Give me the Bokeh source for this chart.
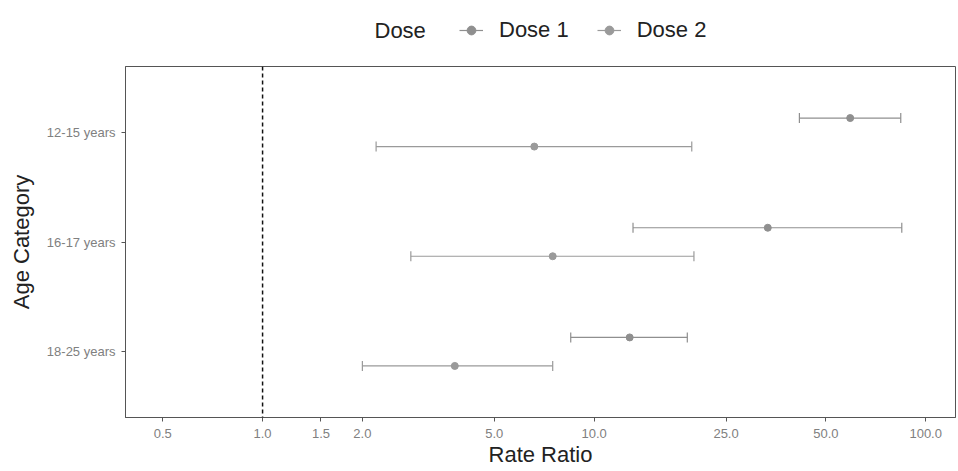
from bokeh.plotting import figure
from bokeh.layouts import column
from bokeh.models import (ColumnDataSource, FixedTicker, PrintfTickFormatter, Span,
                          Whisker, TeeHead, Legend, LegendItem, Label, Range1d)
from bokeh.transform import dodge
from bokeh.embed import file_html
from bokeh.resources import INLINE

# ---- data ----
age_categories = ["18-25 years", "16-17 years", "12-15 years"]
doses = ["Dose 1", "Dose 2"]
dose1_est = [12.8, 33.4, 59.2]      # order follows age_categories
dose1_low = [8.5, 13.1, 41.6]
dose1_high = [19.1, 84.7, 84.1]
dose2_est = [3.8, 7.5, 6.6]
dose2_low = [2.0, 2.8, 2.2]
dose2_high = [7.5, 20.0, 19.7]
x_ticks = [0.5, 1.0, 1.5, 2.0, 5.0, 10.0, 25.0, 50.0, 100.0]

FONT = "Liberation Sans"
colors = {"Dose 1": "#8f8f8f", "Dose 2": "#9a9a9a"}
offsets = {"Dose 1": 0.13, "Dose 2": -0.13}
W = 956

sources = {
    "Dose 1": ColumnDataSource(dict(y=[1, 2, 3], est=dose1_est, low=dose1_low, high=dose1_high)),
    "Dose 2": ColumnDataSource(dict(y=[1, 2, 3], est=dose2_est, low=dose2_low, high=dose2_high)),
}

# ---------- main plot ----------
p = figure(width=W, height=404, x_axis_type="log",
           x_range=Range1d(0.386, 123), y_range=Range1d(0.4, 3.6),
           output_backend="svg", toolbar_location=None,
           min_border_left=125, min_border_right=1, min_border_top=1, min_border_bottom=51)
p.xgrid.visible = False
p.ygrid.visible = False
p.outline_line_color = "#555555"
p.outline_line_width = 1

for d in doses:
    src = sources[d]
    yd = dodge("y", offsets[d], range=p.y_range)
    p.segment(x0="low", x1="high", y0=yd, y1=yd, source=src,
              line_color=colors[d], line_width=1.2)
    p.add_layout(Whisker(base=yd, lower="low", upper="high", source=src, dimension="width",
                         line_alpha=0,
                         lower_head=TeeHead(size=10, line_color=colors[d], line_width=1.2),
                         upper_head=TeeHead(size=10, line_color=colors[d], line_width=1.2)))
    p.scatter(x="est", y=yd, source=src, size=7, fill_color=colors[d], line_color=colors[d])

p.add_layout(Span(location=1.0, dimension="height", line_color="#111111",
                  line_width=1.5, line_dash="4 3"))

p.xaxis.ticker = FixedTicker(ticks=x_ticks, minor_ticks=[])
p.xaxis.formatter = PrintfTickFormatter(format="%.1f")
p.yaxis.ticker = FixedTicker(ticks=[1, 2, 3], minor_ticks=[])
p.yaxis.major_label_overrides = {i + 1: c for i, c in enumerate(age_categories)}
for ax in (p.xaxis, p.yaxis):
    ax.axis_line_color = "#555555"
    ax.major_tick_line_color = "#555555"
    ax.major_tick_in = 0
    ax.major_tick_out = 4
    ax.minor_tick_line_color = None
    ax.major_label_text_font = FONT
    ax.major_label_text_font_size = "13px"
    ax.major_label_text_color = "#808080"
    ax.axis_label_text_font = FONT
    ax.axis_label_text_font_size = "22px"
    ax.axis_label_text_font_style = "normal"
    ax.axis_label_text_color = "#222222"
p.xaxis.axis_label = "Rate Ratio"
p.yaxis.axis_label = "Age Category"
p.xaxis.major_label_standoff = 7
p.xaxis.axis_label_standoff = 1
p.yaxis.major_label_standoff = 6
p.yaxis.axis_label_standoff = 10

# ---------- legend strip (frame aligned with the main frame) ----------
top = figure(width=W, height=65, x_axis_type="log",
             x_range=p.x_range, y_range=Range1d(10, 11),
             output_backend="svg", toolbar_location=None,
             x_axis_location=None, y_axis_location=None,
             min_border_left=0, min_border_right=0, min_border_top=0, min_border_bottom=0)
top.outline_line_color = None
top.xgrid.visible = False
top.ygrid.visible = False
items = []
for d in doses:
    src = sources[d]
    seg = top.segment(x0="low", x1="high", y0="y", y1="y", source=src,
                      line_color=colors[d], line_width=1.2)
    pt = top.scatter(x="est", y="y", source=src, size=7, fill_color=colors[d],
                     line_color=colors[d])
    items.append(LegendItem(label=d, renderers=[seg, pt]))
legend = Legend(items=items, orientation="horizontal", location=(334, 22),
                label_text_font=FONT, label_text_font_size="22px",
                label_text_color="#222222", glyph_width=24, glyph_height=22,
                label_standoff=16, spacing=28, padding=0, margin=0,
                border_line_color=None, background_fill_alpha=0)
top.add_layout(legend, "center")
top.add_layout(Label(x=249, y=35, x_units="screen", y_units="screen", text="Dose",
                     text_baseline="middle", text_font=FONT, text_font_size="22px",
                     text_color="#222222"))

layout = column(top, p, spacing=0)
open("out.html", "w").write(file_html(layout, INLINE))
